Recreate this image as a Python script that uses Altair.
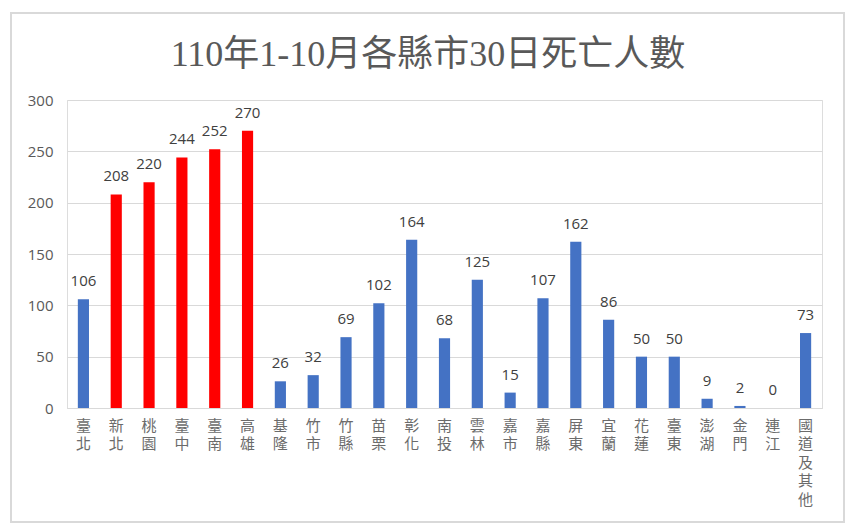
import altair as alt
import pandas as pd

categories = ["臺北", "新北", "桃園", "臺中", "臺南", "高雄", "基隆", "竹市", "竹縣", "苗栗",
              "彰化", "南投", "雲林", "嘉市", "嘉縣", "屏東", "宜蘭", "花蓮", "臺東", "澎湖",
              "金門", "連江", "國道及其他"]
deaths = [106, 208, 220, 244, 252, 270, 26, 32, 69, 102,
          164, 68, 125, 15, 107, 162, 86, 50, 50, 9,
          2, 0, 73]
groups = ["一般", "直轄市", "直轄市", "直轄市", "直轄市", "直轄市"] + ["一般"] * 17
title_text = "110年1-10月各縣市30日死亡人數"
y_ticks = [0, 50, 100, 150, 200, 250, 300]

df = pd.DataFrame({"縣市": categories, "死亡人數": deaths, "組別": groups})

W, H = 755, 308
PL, PT = 67, 100

x_enc = alt.X("縣市:N", sort=categories, title=None,
              scale=alt.Scale(paddingInner=0.66, paddingOuter=0.33),
              axis=alt.Axis(labelAngle=0, labelBaseline="top", labelAlign="center",
                            labelExpr="split(datum.label, '')",
                            labelLineHeight=18.5, labelFontSize=15,
                            labelFont="Noto Sans CJK TC", labelColor="#6b6b6b",
                            labelPadding=10, ticks=False, domainColor="#d9d9d9",
                            domainWidth=1, grid=False))

bars = alt.Chart(df).mark_bar().encode(
    x=x_enc,
    y=alt.Y("死亡人數:Q", title=None,
            scale=alt.Scale(domain=[0, 300], nice=False),
            axis=alt.Axis(values=y_ticks, labelFontSize=15, labelColor="#595959",
                          labelFont="Open Sans", labelPadding=14, ticks=False,
                          domain=False, gridColor="#d9d9d9", gridWidth=1)),
    color=alt.Color("組別:N", scale=alt.Scale(domain=["一般", "直轄市"],
                                              range=["#4472C4", "#FF0000"]), legend=None),
)

labels = alt.Chart(df).mark_text(baseline="alphabetic", dy=-13, fontSize=15,
                                 font="Open Sans", color="#404040").encode(
    x=alt.X("縣市:N", sort=categories),
    y="死亡人數:Q",
    text="死亡人數:Q",
)

title = alt.Chart(pd.DataFrame({"t": [title_text]})).mark_text(
    align="center", baseline="alphabetic", fontSize=36,
    font="Liberation Serif, Noto Sans CJK TC", color="#595959").encode(
    x=alt.value(361), y=alt.value(-34), text="t:N")

border = alt.Chart(pd.DataFrame({"a": [0]})).mark_rect(
    fill=None, stroke="#d9d9d9", strokeWidth=2).encode(
    x=alt.value(-56), x2=alt.value(777), y=alt.value(-87), y2=alt.value(422))

chart = alt.layer(bars, labels, title, border).properties(
    width=W, height=H,
    autosize=alt.AutoSizeParams(type="none"),
    padding={"left": PL, "top": PT, "right": 851 - PL - W, "bottom": 529 - PT - H},
).configure_view(stroke=None).configure(background="white")

chart.save("out.html", embed_options={"renderer": "svg", "actions": False})
